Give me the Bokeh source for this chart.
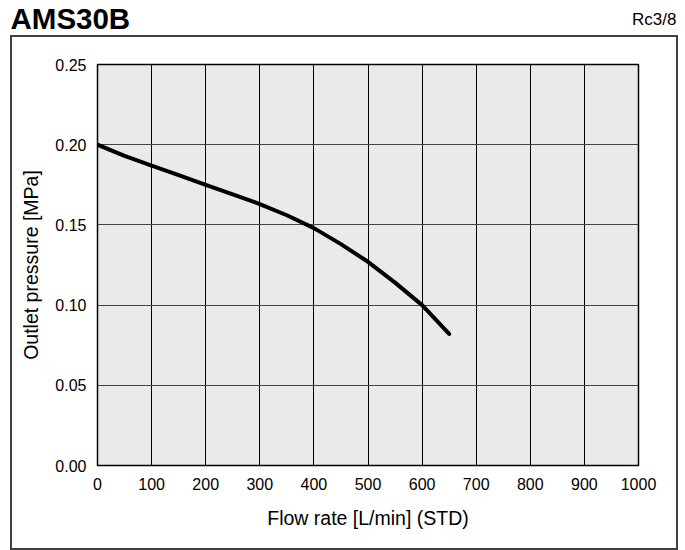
from bokeh.plotting import figure
from bokeh.models import Label, FixedTicker, Range1d, NumeralTickFormatter
from bokeh.embed import file_html
from bokeh.resources import INLINE

# ---- data ----
flow = [0, 50, 100, 150, 200, 250, 300, 350, 400, 450, 500, 550, 600, 650]
pressure = [0.200, 0.193, 0.187, 0.181, 0.175, 0.169, 0.163, 0.156, 0.148,
            0.138, 0.127, 0.114, 0.100, 0.082]
x_ticks = [0, 100, 200, 300, 400, 500, 600, 700, 800, 900, 1000]
y_ticks = [0.00, 0.05, 0.10, 0.15, 0.20, 0.25]
title_text = "AMS30B"
port_text = "Rc3/8"
x_label = "Flow rate [L/min] (STD)"
y_label = "Outlet pressure [MPa]"

FONT = "Liberation Sans"

p = figure(width=685, height=550, output_backend="svg", toolbar_location=None,
           x_range=Range1d(0, 1000), y_range=Range1d(0, 0.25),
           min_border_left=97, min_border_right=47, min_border_top=64,
           min_border_bottom=85)
p.background_fill_color = "#e9eaea"
p.border_fill_color = None
p.outline_line_color = "black"
p.outline_line_width = 1.5

p.xaxis.ticker = FixedTicker(ticks=x_ticks)
p.yaxis.ticker = FixedTicker(ticks=y_ticks)
p.yaxis.formatter = NumeralTickFormatter(format="0.00")
for ax in (p.xaxis, p.yaxis):
    ax.axis_line_color = None
    ax.major_tick_line_color = None
    ax.minor_tick_line_color = None
    ax.major_label_text_font = FONT
    ax.major_label_text_font_size = "16px"
    ax.major_label_text_color = "black"
    ax.axis_label_text_font = FONT
    ax.axis_label_text_font_size = "19.5px"
    ax.axis_label_text_font_style = "normal"
    ax.axis_label_text_color = "black"
p.xaxis.axis_label = x_label
p.yaxis.axis_label = y_label
p.xaxis.major_label_standoff = 6
p.yaxis.major_label_standoff = 5
p.xaxis.axis_label_standoff = 14
p.yaxis.axis_label_standoff = 10

p.xgrid.grid_line_color = "black"
p.xgrid.grid_line_width = 1
p.ygrid.grid_line_color = "#444444"
p.ygrid.grid_line_width = 1

p.line(flow, pressure, line_width=4, line_color="black",
       line_cap="round", line_join="round")

# header texts (placed in the top panel so they are not clipped to the frame)
p.add_layout(Label(x=10, y=34, x_units="canvas", y_units="canvas", text=title_text,
                   text_font=FONT, text_font_size="29.5px", text_font_style="bold",
                   text_baseline="bottom", text_align="left",
                   text_color="black"), "above")
p.add_layout(Label(x=676, y=28, x_units="canvas", y_units="canvas", text=port_text,
                   text_font=FONT, text_font_size="17px",
                   text_baseline="bottom", text_align="right",
                   text_color="black"), "above")

# outer frame box drawn as page background lines
g = "linear-gradient(#404040,#404040)"
p.styles = {"background": (f"{g} 10px 35px / 668px 2px no-repeat, "
                           f"{g} 10px 548px / 668px 2px no-repeat, "
                           f"{g} 10px 35px / 2px 515px no-repeat, "
                           f"{g} 676px 35px / 2px 515px no-repeat, white")}

open("out.html", "w").write(file_html(p, INLINE))
